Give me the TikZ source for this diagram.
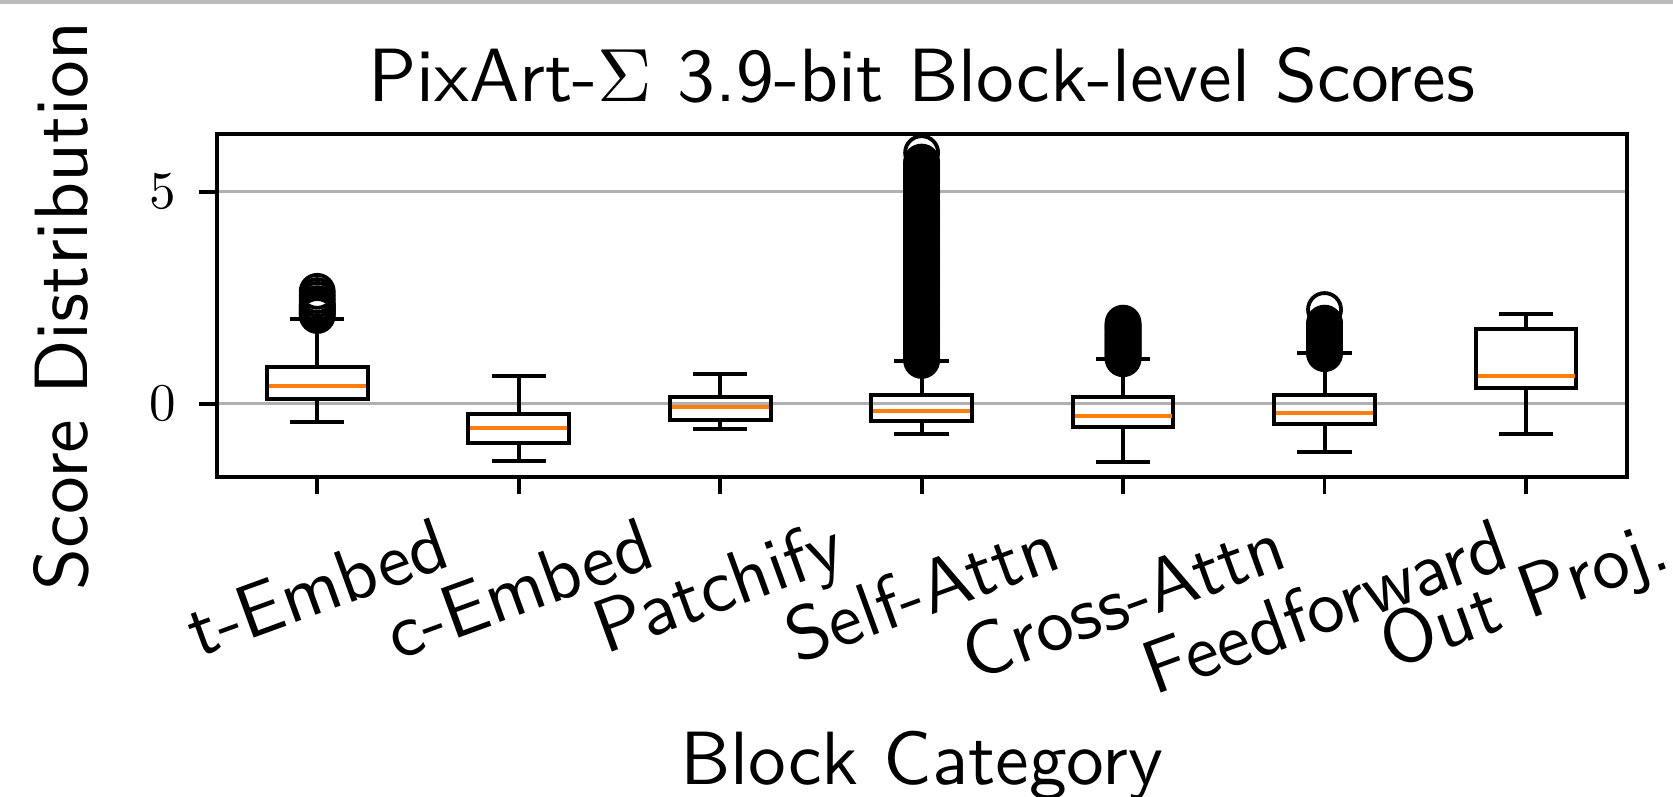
\documentclass[tikz,border=0pt]{standalone}
\usepackage{unicode-math}
\usetikzlibrary{calc}
\newfontfamily\lmsten{lmsans10-regular.otf}
\definecolor{mplorange}{HTML}{FF7F0E}
\definecolor{gridgray}{HTML}{B0B0B0}
\definecolor{bandgray}{HTML}{BBBBBB}
\newcommand\bigsf{\fontsize{75.5}{90}\selectfont\lmsten}
\newcommand\ticksz{\fontsize{53}{64}\selectfont}
% box plot: #1 position, #2 lower whisker, #3 Q1, #4 median, #5 Q3, #6 upper whisker
\newcommand\bplot[6]{%
  \draw[boxln] ({px(#1)-50.37},{py(#3)}) rectangle ({px(#1)+50.37},{py(#5)});
  \draw[boxln] ({px(#1)},{py(#3)}) -- ({px(#1)},{py(#2)});
  \draw[boxln] ({px(#1)},{py(#5)}) -- ({px(#1)},{py(#6)});
  \draw[capln] ({px(#1)-25.18},{py(#2)}) -- ({px(#1)+25.18},{py(#2)});
  \draw[capln] ({px(#1)-25.18},{py(#6)}) -- ({px(#1)+25.18},{py(#6)});
  \draw[medln] ({px(#1)-48.5},{py(#4)}) -- ({px(#1)+48.5},{py(#4)});
}
% half vertical extent of a text box rotated by 20 degrees
\newcommand\measure[2]{%
  \setbox0=\hbox{\bigsf #2}%
  \pgfmathsetmacro#1{(\the\wd0*0.34202+(\the\ht0+\the\dp0)*0.93969)/2}%
}
\begin{document}
\measure\offA{t-Embed}%
\measure\offB{c-Embed}%
\measure\offC{Patchify}%
\measure\offD{Self-Attn}%
\measure\offE{Cross-Attn}%
\measure\offF{Feedforward}%
\measure\offG{Out Proj.}%
\begin{tikzpicture}[x=1pt,y=1pt,
  declare function={px(\i)=115.77+201.46*\i; py(\v)=392.3+42.4*\v;},
  spine/.style={line width=4pt, line join=miter},
  gridln/.style={gridgray, line width=3.5pt},
  tickln/.style={line width=3.8pt},
  boxln/.style={line width=4pt, line join=miter},
  capln/.style={line width=4pt, line cap=rect},
  medln/.style={mplorange, line width=4pt},
  flier/.style={line width=3.8pt},
  xtl/.style={font=\bigsf, rotate=20, inner sep=0pt, anchor=center},
  ytl/.style={font=\ticksz, inner sep=0pt, anchor=east},
  lab/.style={font=\bigsf, inner sep=0pt, anchor=base}]
\fill[white] (0,0) rectangle (1673,796);
\useasboundingbox (0,0) rectangle (1673,796);
\fill[bandgray] (0,792) rectangle (1673,796);
% axes corners
\coordinate (axSW) at (216.5,318.7);
\coordinate (axNE) at (1626.7,662.3);
% grid lines
\coordinate (g0l) at (216.5,{py(0)}); \coordinate (g0r) at (1626.7,{py(0)});
\coordinate (g5l) at (216.5,{py(5)}); \coordinate (g5r) at (1626.7,{py(5)});
\draw[gridln] (g0l) -- (g0r);
\draw[gridln] (g5l) -- (g5r);
% boxes
\bplot{1}{-0.42}{0.12}{0.42}{0.87}{1.99}
\bplot{2}{-1.34}{-0.92}{-0.58}{-0.24}{0.65}
\bplot{3}{-0.60}{-0.38}{-0.07}{0.15}{0.70}
\bplot{4}{-0.72}{-0.41}{-0.165}{0.20}{1.01}
\bplot{5}{-1.37}{-0.54}{-0.28}{0.15}{1.05}
\bplot{6}{-1.13}{-0.49}{-0.23}{0.21}{1.19}
\bplot{7}{-0.71}{0.38}{0.65}{1.75}{2.11}
% fliers
\foreach \v in {2.08,2.12,...,2.37,2.46,2.55,2.65}
  \draw[flier] ({px(1)},{py(\v)}) circle[radius=16.5pt];
\foreach \v in {1.02,1.06,...,5.73,5.92}
  \draw[flier] ({px(4)},{py(\v)}) circle[radius=16.5pt];
\foreach \v in {1.06,1.10,...,1.93}
  \draw[flier] ({px(5)},{py(\v)}) circle[radius=16.5pt];
\foreach \v in {1.18,1.22,...,1.93,2.22}
  \draw[flier] ({px(6)},{py(\v)}) circle[radius=16.5pt];
% spines
\draw[spine] (axSW) rectangle (axNE);
% ticks
\foreach \i in {1,...,7}
  \draw[tickln] ({px(\i)},318.7) -- ({px(\i)},301.5);
\draw[tickln] (216.5,{py(0)}) -- (199,{py(0)});
\draw[tickln] (216.5,{py(5)}) -- (199,{py(5)});
% y tick labels
\node[ytl] (y0) at (176,{py(0)}) {$0$};
\node[ytl] (y5) at (176,{py(5)}) {$5$};
% x tick labels (rotated box, top of its bounding box 516px from the top)
\node[xtl] (xl1) at ({px(1)},{280-\offA}) {t-Embed};
\node[xtl] (xl2) at ({px(2)},{280-\offB}) {c-Embed};
\node[xtl] (xl3) at ({px(3)},{280-\offC}) {Patchify};
\node[xtl] (xl4) at ({px(4)},{280-\offD}) {Self-Attn};
\node[xtl] (xl5) at ({px(5)},{280-\offE}) {Cross-Attn};
\node[xtl] (xl6) at ({px(6)},{280-\offF}) {Feedforward};
\node[xtl] (xl7) at ({px(7)},{280-\offG}) {Out Proj.};
% labels
\node[lab] (title) at (921.6,694.3) {PixArt-$\Sigma$ 3.9-bit Block-level Scores};
\node[lab] (xlabel) at (921.6,12) {Block Category};
\node[lab, rotate=90] (ylabel) at (87,490) {Score Distribution};
\end{tikzpicture}
\end{document}
